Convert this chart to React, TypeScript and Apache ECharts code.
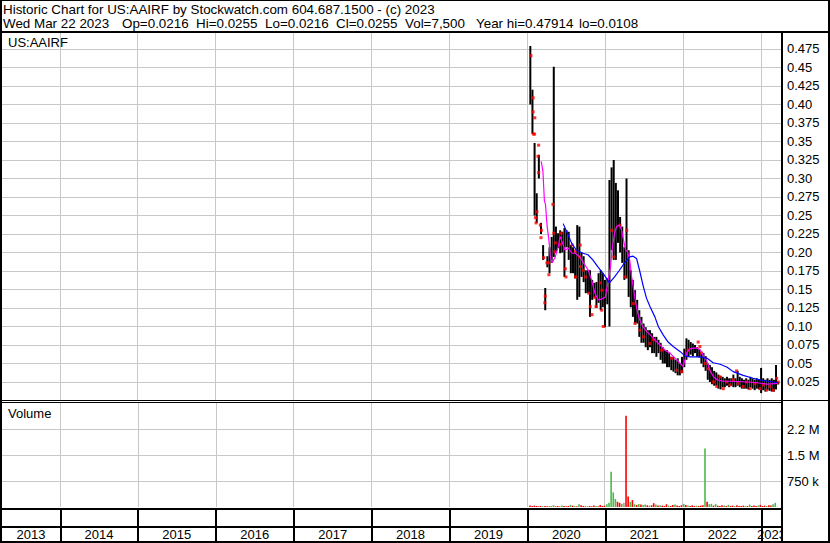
import React, { useEffect, useRef } from 'react';
import * as echarts from 'echarts';

const FONT = '"Liberation Sans", Arial, sans-serif';

const headerLine1 = 'Historic Chart for US:AAIRF by Stockwatch.com 604.687.1500 - (c) 2023';
const headerFields = ['Wed Mar 22 2023', 'Op=0.0216', 'Hi=0.0255', 'Lo=0.0216', 'Cl=0.0255', 'Vol=7,500', 'Year hi=0.47914', 'lo=0.0108'];
const symbolLabel = 'US:AAIRF';
const volumeLabel = 'Volume';

const axisStartDate = '2013-04-04';
const axisEndDate = '2023-04-09';

const yearLabels = ['2013', '2014', '2015', '2016', '2017', '2018', '2019', '2020', '2021', '2022', '2023'];
const yearStarts = ['2013-01-01', '2014-01-01', '2015-01-01', '2016-01-01', '2017-01-01', '2018-01-01', '2019-01-01', '2020-01-01', '2021-01-01', '2022-01-01', '2023-01-01'];
const yearEnds = ['2014-01-01', '2015-01-01', '2016-01-01', '2017-01-01', '2018-01-01', '2019-01-01', '2020-01-01', '2021-01-01', '2022-01-01', '2023-01-01', '2024-01-01'];

const priceMax = 0.4966;
const priceStep = 0.025;
const volumeMax = 3000000;
const volumeStep = 750000;
const volumeTickValues = [750000, 1500000, 2250000];
const volumeTickLabels = ['750 k', '1.5 M', '2.2 M'];

const barDates = [
  '2020-01-15', '2020-01-25', '2020-02-04', '2020-02-14', '2020-02-24', '2020-03-05', '2020-03-15', '2020-03-25', '2020-04-04', '2020-04-14', '2020-04-24', '2020-05-04', '2020-05-14', '2020-05-24', '2020-06-03', '2020-06-13', '2020-06-23', '2020-07-03', '2020-07-13', '2020-07-23', '2020-08-02', '2020-08-12', '2020-08-22', '2020-09-01', '2020-09-11', '2020-09-21', '2020-10-01', '2020-10-11', '2020-10-21', '2020-10-31', '2020-11-10', '2020-11-20', '2020-11-30', '2020-12-10', '2020-12-20', '2020-12-30',
  '2021-01-10', '2021-01-20', '2021-01-30', '2021-02-09', '2021-02-19', '2021-03-01', '2021-03-11', '2021-03-21', '2021-03-31', '2021-04-10', '2021-04-20', '2021-04-30', '2021-05-10', '2021-05-20', '2021-05-30', '2021-06-09', '2021-06-19', '2021-06-29', '2021-07-09', '2021-07-19', '2021-07-29', '2021-08-08', '2021-08-18', '2021-08-28', '2021-09-07', '2021-09-17', '2021-09-27', '2021-10-07', '2021-10-17', '2021-10-27', '2021-11-06', '2021-11-16', '2021-11-26', '2021-12-06', '2021-12-16', '2021-12-26',
  '2022-01-06', '2022-01-16', '2022-01-26', '2022-02-05', '2022-02-15', '2022-02-25', '2022-03-07', '2022-03-17', '2022-03-27', '2022-04-06', '2022-04-16', '2022-04-26', '2022-05-06', '2022-05-16', '2022-05-26', '2022-06-05', '2022-06-15', '2022-06-25', '2022-07-05', '2022-07-15', '2022-07-25', '2022-08-04', '2022-08-14', '2022-08-24', '2022-09-03', '2022-09-13', '2022-09-23', '2022-10-03', '2022-10-13', '2022-10-23', '2022-11-02', '2022-11-12', '2022-11-22', '2022-12-02', '2022-12-12', '2022-12-22',
  '2023-01-01', '2023-01-11', '2023-01-21', '2023-01-31', '2023-02-10', '2023-02-20', '2023-03-02', '2023-03-12', '2023-03-22',
];

const highs = [
  0.479, 0.42, 0.348, 0.28, 0.332, 0.24, 0.21, 0.152, 0.195, 0.207, 0.221, 0.451, 0.235, 0.226, 0.23, 0.228, 0.233, 0.23, 0.228, 0.21, 0.207, 0.2, 0.237, 0.235, 0.2, 0.195, 0.176, 0.176, 0.176, 0.163, 0.159, 0.16, 0.172, 0.176, 0.172, 0.163,
  0.165, 0.298, 0.315, 0.325, 0.294, 0.284, 0.248, 0.235, 0.207, 0.30, 0.203, 0.176, 0.163, 0.149, 0.136, 0.122, 0.113, 0.104, 0.099, 0.095, 0.095, 0.091, 0.086, 0.086, 0.082, 0.078, 0.072, 0.068, 0.068, 0.064, 0.059, 0.059, 0.055, 0.057, 0.05, 0.059,
  0.07, 0.084, 0.082, 0.079, 0.077, 0.075, 0.072, 0.07, 0.066, 0.064, 0.06, 0.05, 0.048, 0.045, 0.04, 0.038, 0.035, 0.033, 0.032, 0.03, 0.032, 0.03, 0.03, 0.035, 0.03, 0.04, 0.032, 0.03, 0.028, 0.03, 0.028, 0.032, 0.03, 0.028, 0.03, 0.028,
  0.044, 0.03, 0.028, 0.03, 0.028, 0.03, 0.028, 0.048, 0.0255,
];

const lows = [
  0.40, 0.36, 0.25, 0.24, 0.30, 0.225, 0.19, 0.122, 0.18, 0.172, 0.186, 0.194, 0.20, 0.206, 0.199, 0.20, 0.167, 0.207, 0.19, 0.172, 0.172, 0.165, 0.136, 0.14, 0.167, 0.16, 0.145, 0.145, 0.113, 0.136, 0.139, 0.125, 0.132, 0.122, 0.126, 0.099,
  0.13, 0.10, 0.203, 0.19, 0.19, 0.213, 0.2, 0.186, 0.163, 0.165, 0.14, 0.126, 0.113, 0.104, 0.104, 0.086, 0.078, 0.078, 0.072, 0.068, 0.072, 0.064, 0.064, 0.059, 0.064, 0.055, 0.05, 0.05, 0.045, 0.045, 0.041, 0.039, 0.037, 0.034, 0.034, 0.037,
  0.045, 0.055, 0.06, 0.062, 0.06, 0.064, 0.059, 0.058, 0.05, 0.045, 0.04, 0.028, 0.025, 0.022, 0.02, 0.02, 0.016, 0.015, 0.018, 0.018, 0.02, 0.018, 0.02, 0.018, 0.018, 0.02, 0.018, 0.016, 0.016, 0.016, 0.015, 0.018, 0.016, 0.014, 0.016, 0.015,
  0.01, 0.014, 0.012, 0.014, 0.013, 0.012, 0.012, 0.015, 0.0216,
];

// red price marks
const dotDates = [
  '2020-01-18', '2020-01-28', '2020-01-28', '2020-02-05', '2020-01-30', '2020-02-04', '2020-02-23', '2020-02-20', '2020-02-23', '2020-02-15', '2020-02-08', '2020-02-11', '2020-03-02', '2020-03-07', '2020-03-05', '2020-03-18', '2020-03-25', '2020-03-23', '2020-04-02', '2020-04-10', '2020-04-11', '2020-04-30', '2020-05-04', '2020-05-11', '2020-05-08', '2020-06-07', '2020-06-04', '2020-06-27', '2020-06-30', '2020-07-29', '2020-08-13', '2020-08-14', '2020-09-05', '2020-09-01', '2020-09-06', '2020-09-18', '2020-09-29', '2020-10-15', '2020-10-22', '2020-10-30', '2020-11-12', '2020-11-18', '2020-12-08', '2020-12-15', '2020-12-16', '2020-12-22',
  '2021-01-07', '2021-01-31', '2021-02-10', '2021-03-10', '2021-04-03', '2021-04-11', '2021-05-12', '2021-05-20', '2021-06-12', '2021-06-28', '2021-07-29', '2021-08-14', '2021-09-22', '2021-11-08', '2021-12-01', '2021-12-25',
  '2022-01-24', '2022-03-12', '2022-03-20', '2022-03-28', '2022-04-13', '2022-04-28', '2022-05-22', '2022-06-07', '2022-06-22', '2022-07-08', '2022-07-23', '2022-08-08', '2022-08-23', '2022-09-08', '2022-09-16', '2022-10-09', '2022-10-25', '2022-11-10', '2022-12-03', '2022-12-27',
  '2023-01-11', '2023-01-27', '2023-02-12', '2023-02-27', '2023-03-15', '2023-03-22',
];
const dotValues = [
  0.466, 0.409, 0.39, 0.382, 0.36, 0.36, 0.345, 0.33, 0.308, 0.255, 0.247, 0.24, 0.237, 0.23, 0.22, 0.193, 0.141, 0.132, 0.186, 0.186, 0.17, 0.265, 0.226, 0.213, 0.201, 0.226, 0.211, 0.178, 0.167, 0.21, 0.202, 0.167, 0.21, 0.194, 0.181, 0.176, 0.167, 0.145, 0.127, 0.116, 0.139, 0.127, 0.159, 0.122, 0.149, 0.1,
  0.149, 0.23, 0.194, 0.237, 0.167, 0.23, 0.131, 0.104, 0.095, 0.086, 0.077, 0.082, 0.068, 0.057, 0.041, 0.039,
  0.068, 0.079, 0.073, 0.064, 0.05, 0.043, 0.025, 0.019, 0.032, 0.016, 0.025, 0.021, 0.028, 0.04, 0.023, 0.019, 0.025, 0.016, 0.023, 0.016,
  0.021, 0.014, 0.019, 0.014, 0.03, 0.025,
];

// volume in thousands of shares
const volumesK = [
  40, 30, 40, 30, 20, 30, 20, 30, 20, 30, 20, 50, 20, 30, 20, 40, 30, 20, 30, 60, 40, 30, 20, 80, 50, 30, 20, 20, 30, 20, 40, 30, 20, 60, 30, 40,
  80, 120, 1020, 420, 230, 150, 120, 90, 120, 2630, 300, 150, 200, 80, 60, 90, 70, 60, 70, 50, 40, 50, 110, 70, 40, 50, 40, 30, 80, 40, 30, 60, 70, 40, 30, 50,
  90, 60, 40, 30, 50, 30, 40, 30, 40, 50, 1690, 150, 80, 90, 40, 90, 40, 30, 50, 40, 30, 60, 30, 40, 30, 50, 30, 30, 40, 30, 30, 70, 30, 40, 30, 40,
  60, 30, 40, 30, 50, 40, 80, 120, 7.5,
];

// 1 = up day, -1 = down day, 0 = unchanged
const volumeDirs = [
  -1, -1, -1, -1, -1, -1, 1, -1, -1, 1, -1, 1, -1, -1, 1, 1, -1, -1, -1, 1, -1, 1, -1, 1, -1, -1, -1, 1, -1, -1, -1, 1, -1, -1, -1, -1,
  1, 1, 1, 1, 1, -1, -1, 1, 0, -1, -1, 1, -1, 1, -1, 1, -1, 1, 1, -1, 1, -1, -1, 1, -1, 1, -1, -1, -1, 1, -1, -1, 1, -1, -1, -1,
  1, -1, 1, -1, -1, -1, 1, -1, -1, -1, 1, -1, 1, 1, -1, 1, -1, -1, -1, 1, -1, 1, -1, -1, 1, -1, -1, -1, -1, 1, -1, 1, -1, -1, -1, 1,
  -1, -1, -1, 1, -1, -1, 1, 1, 1,
];

const maShortDates = [
  '2020-03-06', '2020-03-14', '2020-03-21', '2020-03-26', '2020-04-03', '2020-04-11', '2020-04-18', '2020-04-26', '2020-05-11', '2020-05-27', '2020-06-02', '2020-06-11', '2020-06-26', '2020-07-12', '2020-07-28', '2020-08-12', '2020-09-04', '2020-09-20', '2020-10-13', '2020-10-28', '2020-11-13', '2020-11-28', '2020-12-14',
  '2021-01-01', '2021-01-15', '2021-01-25', '2021-02-03', '2021-02-13', '2021-02-22', '2021-03-07', '2021-03-18', '2021-03-27', '2021-04-06', '2021-04-15', '2021-04-25', '2021-05-04', '2021-05-14', '2021-05-23', '2021-06-02', '2021-06-11', '2021-06-25', '2021-07-14', '2021-07-29', '2021-08-21', '2021-09-14', '2021-10-08', '2021-10-31', '2021-11-24', '2021-12-18',
  '2022-01-01', '2022-01-18', '2022-02-03', '2022-03-06', '2022-03-22', '2022-04-06', '2022-04-22', '2022-05-07', '2022-05-23', '2022-06-08', '2022-07-07', '2022-08-23', '2022-10-28', '2022-12-13',
  '2023-01-29', '2023-03-17',
];
const maShort = [
  0.323, 0.31, 0.27, 0.265, 0.235, 0.217, 0.194, 0.186, 0.194, 0.21, 0.222, 0.215, 0.203, 0.206, 0.199, 0.199, 0.194, 0.186, 0.176, 0.163, 0.145, 0.136, 0.137,
  0.14, 0.163, 0.181, 0.208, 0.226, 0.235, 0.237, 0.23, 0.217, 0.203, 0.201, 0.19, 0.167, 0.149, 0.132, 0.118, 0.109, 0.1, 0.093, 0.089, 0.082, 0.075, 0.068, 0.064, 0.057, 0.05,
  0.046, 0.065, 0.07, 0.071, 0.068, 0.06, 0.053, 0.04, 0.032, 0.028, 0.026, 0.026, 0.025, 0.024,
  0.022, 0.023,
];

const maLongDates = [
  '2020-06-17', '2020-07-10', '2020-07-26', '2020-08-18', '2020-09-18', '2020-10-11', '2020-11-03', '2020-11-26', '2020-12-20',
  '2021-01-04', '2021-01-20', '2021-02-13', '2021-03-08', '2021-04-01', '2021-04-25', '2021-05-11', '2021-05-27', '2021-06-11', '2021-06-27', '2021-07-13', '2021-07-29', '2021-08-21', '2021-09-06', '2021-09-28', '2021-10-22', '2021-11-15', '2021-12-18',
  '2022-01-10', '2022-02-03', '2022-03-22', '2022-04-23', '2022-05-21', '2022-06-23', '2022-07-26', '2022-08-23', '2022-10-09', '2022-11-25',
  '2023-01-10', '2023-02-26', '2023-03-22',
];
const maLong = [
  0.239, 0.224, 0.213, 0.203, 0.199, 0.197, 0.19, 0.181, 0.172,
  0.166, 0.159, 0.167, 0.176, 0.186, 0.194, 0.195, 0.192, 0.175, 0.155, 0.138, 0.127, 0.113, 0.1, 0.089, 0.079, 0.073, 0.066,
  0.06, 0.059, 0.059, 0.057, 0.051, 0.049, 0.045, 0.039, 0.034, 0.03,
  0.027, 0.025, 0.024,
];

const ts = (s: string) => {
  const [y, m, d] = s.split('-').map(Number);
  return new Date(y, m - 1, d).getTime();
};

const fmtPrice = (v: number) => {
  if (v <= 0 || v > 0.48) return '';
  const r = Math.round(v * 1000) / 1000;
  const s = r.toFixed(3);
  return s.endsWith('0') ? r.toFixed(2) : s;
};

const fmtVolume = (v: number) => {
  const i = volumeTickValues.findIndex((t) => Math.abs(t - v) < 1);
  return i >= 0 ? volumeTickLabels[i] : '';
};

function buildOption() {
  const xMin = ts(axisStartDate);
  const xMax = ts(axisEndDate);
  const xBase = { type: 'time', min: xMin, max: xMax, show: false, splitLine: { show: false } };

  const gridLine = (color: string) => (params: any, api: any) => {
    const cs = params.coordSys;
    const x = api.coord([api.value(0), 0])[0];
    if (x <= cs.x || x >= cs.x + cs.width) return null;
    const px = Math.floor(x) + 0.5;
    return {
      type: 'line',
      shape: { x1: px, y1: cs.y, x2: px, y2: cs.y + cs.height },
      style: { stroke: color, lineWidth: 1 },
    };
  };

  const yearBoundaryData = yearStarts.slice(1).map((s) => [ts(s), 0]);

  const black = (x: number, y: number, w: number, h: number) => ({
    type: 'rect', shape: { x, y, width: w, height: h }, style: { fill: '#000' }, z: 100, silent: true,
  });
  const label = (x: number, y: number, text: string, size: number) => ({
    type: 'text', x, y, z: 100, silent: true,
    style: { text, fill: '#000', font: `${size}px ${FONT}`, verticalAlign: 'middle', align: 'left' },
  });
  const headerX = [3, 122, 196, 265, 336, 405, 476, 579];

  const axisLabelStyle = { margin: 5, align: 'left', color: '#000', fontSize: 13, fontFamily: FONT };

  return {
    animation: false,
    backgroundColor: '#fff',
    grid: [
      { left: 2, top: 33, width: 780, height: 367.5 },
      { left: 2, top: 403, width: 780, height: 104 },
      { left: 2, top: 509, width: 780, height: 32 },
    ],
    xAxis: [
      { ...xBase, gridIndex: 0 },
      { ...xBase, gridIndex: 1 },
      { ...xBase, gridIndex: 2 },
    ],
    yAxis: [
      {
        type: 'value', gridIndex: 0, position: 'right', min: 0, max: priceMax, interval: priceStep,
        axisLine: { show: false }, axisTick: { show: false },
        axisLabel: { ...axisLabelStyle, formatter: fmtPrice },
        splitLine: { show: true, showMinLine: false, showMaxLine: false, lineStyle: { color: '#c8c8c8', width: 1 } },
      },
      {
        type: 'value', gridIndex: 1, position: 'right', min: 0, max: volumeMax, interval: volumeStep,
        axisLine: { show: false }, axisTick: { show: false },
        axisLabel: { ...axisLabelStyle, formatter: fmtVolume },
        splitLine: { show: true, showMinLine: false, showMaxLine: false, lineStyle: { color: '#c8c8c8', width: 1 } },
      },
      { type: 'value', gridIndex: 2, min: 0, max: 1, show: false },
    ],
    series: [
      {
        type: 'custom', xAxisIndex: 0, yAxisIndex: 0, silent: true, z: 1,
        data: yearBoundaryData, encode: { x: 0, y: 1 }, renderItem: gridLine('#c8c8c8'),
      },
      {
        type: 'custom', xAxisIndex: 1, yAxisIndex: 1, silent: true, z: 1,
        data: yearBoundaryData, encode: { x: 0, y: 1 }, renderItem: gridLine('#c8c8c8'),
      },
      {
        type: 'custom', xAxisIndex: 2, yAxisIndex: 2, silent: true, z: 5,
        data: yearBoundaryData, encode: { x: 0, y: 1 },
        renderItem: (params: any, api: any) => {
          const cs = params.coordSys;
          const x = api.coord([api.value(0), 0])[0];
          if (x <= cs.x || x >= cs.x + cs.width) return null;
          return {
            type: 'rect',
            shape: { x: Math.floor(x), y: cs.y, width: 2, height: cs.height },
            style: { fill: '#000' },
          };
        },
      },
      {
        type: 'custom', xAxisIndex: 2, yAxisIndex: 2, silent: true, z: 5, clip: true,
        data: yearStarts.map((s, i) => [ts(s), ts(yearEnds[i])]), encode: { x: [0, 1] },
        renderItem: (params: any, api: any) => {
          const cs = params.coordSys;
          const t0 = Math.max(api.value(0), xMin);
          const t1 = Math.min(api.value(1), xMax);
          const x0 = api.coord([t0, 0])[0];
          const x1 = api.coord([t1, 0])[0];
          return {
            type: 'text',
            x: (x0 + x1) / 2,
            y: cs.y + 25.5,
            style: {
              text: yearLabels[params.dataIndex], fill: '#000', font: `13px ${FONT}`,
              align: 'center', verticalAlign: 'middle',
            },
          };
        },
      },
      {
        type: 'custom', xAxisIndex: 0, yAxisIndex: 0, silent: true, z: 3,
        data: barDates.map((d, i) => [ts(d), lows[i], highs[i]]),
        encode: { x: 0, y: [1, 2] },
        renderItem: (params: any, api: any) => {
          const lo = api.coord([api.value(0), api.value(1)]);
          const hi = api.coord([api.value(0), api.value(2)]);
          return {
            type: 'line',
            shape: { x1: lo[0], y1: lo[1], x2: hi[0], y2: hi[1] },
            style: { stroke: '#000', lineWidth: 2 },
          };
        },
      },
      {
        type: 'scatter', xAxisIndex: 0, yAxisIndex: 0, silent: true, z: 4,
        symbol: 'rect', symbolSize: 3, itemStyle: { color: '#ff0000' },
        data: dotDates.map((d, i) => [ts(d), dotValues[i]]),
      },
      {
        type: 'line', xAxisIndex: 0, yAxisIndex: 0, silent: true, z: 5,
        showSymbol: false, symbol: 'none', lineStyle: { color: '#ff00ff', width: 1.2 },
        data: maShortDates.map((d, i) => [ts(d), maShort[i]]),
      },
      {
        type: 'line', xAxisIndex: 0, yAxisIndex: 0, silent: true, z: 6,
        showSymbol: false, symbol: 'none', lineStyle: { color: '#0000ff', width: 1.2 },
        data: maLongDates.map((d, i) => [ts(d), maLong[i]]),
      },
      {
        type: 'bar', xAxisIndex: 1, yAxisIndex: 1, silent: true, z: 3, barWidth: 1.6,
        data: barDates.map((d, i) => ({
          value: [ts(d), volumesK[i] * 1000],
          itemStyle: { color: volumeDirs[i] > 0 ? '#4cb84c' : volumeDirs[i] < 0 ? '#ff0000' : '#a0a0a0' },
        })),
      },
    ],
    graphic: {
      elements: [
        black(0, 0, 830, 1),
        black(0, 0, 2, 543),
        black(828, 0, 2, 543),
        black(0, 541, 830, 2),
        black(0, 31, 830, 2),
        black(781, 33, 2, 508),
        black(0, 400, 782, 1),
        black(0, 402, 782, 1),
        black(782, 400, 48, 1),
        black(0, 508, 782, 2),
        black(0, 526, 782, 2),
        label(3, 9.5, headerLine1, 13.4),
        ...headerFields.map((f, i) => label(headerX[i], 23.5, f, 13.4)),
        label(8, 42, symbolLabel, 13),
        label(8, 413, volumeLabel, 13),
      ],
    },
  };
}

export default function App() {
  const ref = useRef<HTMLDivElement>(null);
  useEffect(() => {
    if (!ref.current) return;
    const chart = echarts.init(ref.current, undefined, { renderer: 'svg' });
    chart.setOption(buildOption() as any);
    return () => chart.dispose();
  }, []);
  return (
    <div
      ref={ref}
      style={{ position: 'absolute', left: 0, top: 0, width: 830, height: 543, background: '#fff' }}
    />
  );
}
